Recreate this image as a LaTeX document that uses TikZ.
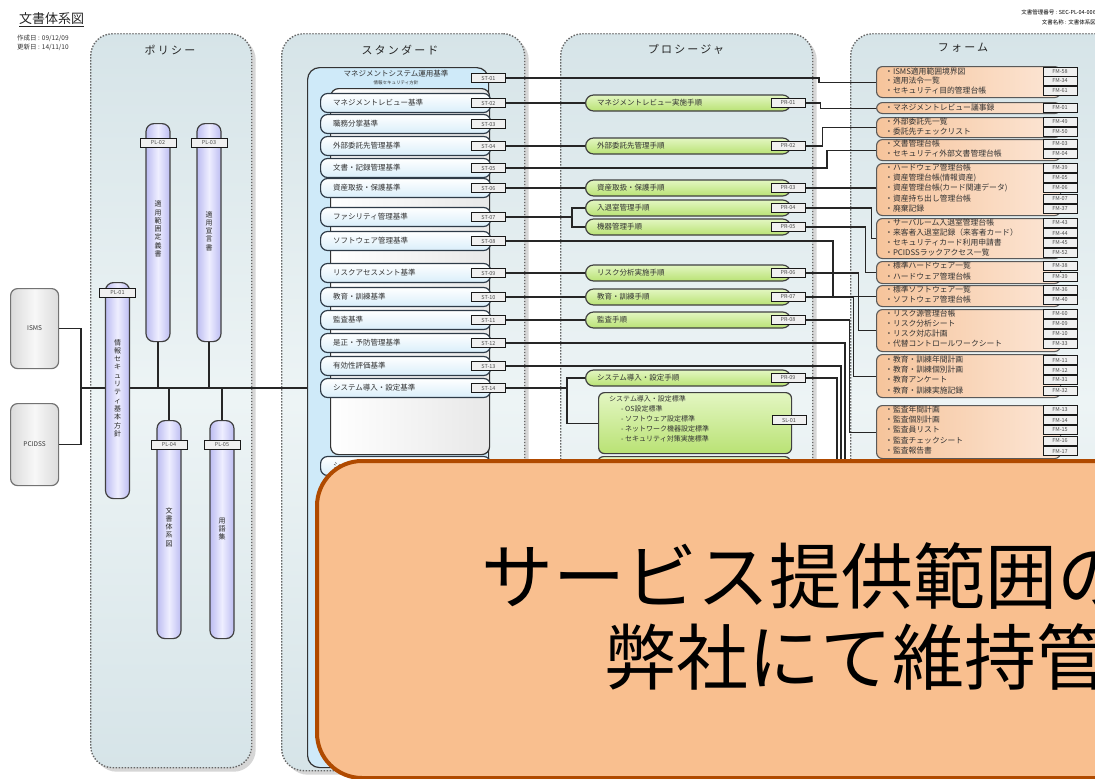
\documentclass[tikz,border=0pt]{standalone}
\usepackage{fontspec}
\setmainfont{Noto Sans CJK JP}
\usetikzlibrary{shadows}
\definecolor{colA}{HTML}{D6E4E8}
\definecolor{colB}{HTML}{EDF4F5}
\definecolor{plA}{HTML}{BDBDF2}
\definecolor{plB}{HTML}{EEEEFF}
\definecolor{stA}{HTML}{CFEAF9}
\definecolor{stB}{HTML}{D9EEFA}
\definecolor{stline}{HTML}{2E3B48}
\definecolor{prA}{HTML}{B9E274}
\definecolor{prB}{HTML}{E3F6C2}
\definecolor{fmA}{HTML}{F6C49B}
\definecolor{fmB}{HTML}{FCE6D6}
\definecolor{callfill}{HTML}{F9BF8F}
\definecolor{callline}{HTML}{B04A00}
\newcommand\mkst[4]{%
  \node[stbox, anchor=west] (#1b) at (320,#2) {};
  \node[txt, anchor=west] (#1t) at (333,#2) {#3};
  \node[lbl] (#1) at (488.5,#2) {#4};}
\newcommand\mkpr[4]{%
  \node[prbox, anchor=west] (#1b) at (585,#2) {};
  \node[txt, anchor=west] (#1t) at (597,#2) {#3};
  \node[lbl] (#1) at (788,#2) {#4};}
\newcommand\mkfm[4]{%
  \node[ftxt, anchor=west] (#1t) at (885,#2) {・#3};
  \node[lbl] (#1) at (1060,#2) {#4};}
\newcommand\mkfg[3]{%
  \node[fmbox, anchor=north west, minimum height=#3] (#1) at (876,#2) {};}
\begin{document}
\begin{tikzpicture}[x=1pt,y=-1pt,
  col/.style={draw=black!60, line width=1.4pt, dash pattern=on 1.4pt off 1.6pt,
    rounded corners=22pt, top color=colA, bottom color=colA, middle color=colB,
    drop shadow={shadow xshift=4pt, shadow yshift=-4pt, fill=black!16, opacity=1},
    inner sep=0},
  coltitle/.style={font=\fontsize{11}{12}\selectfont\addfontfeature{LetterSpace=20}, inner sep=0, text=black!85},
  lbl/.style={draw=black!90, line width=1pt, fill=black!6, minimum width=34pt,
    minimum height=9pt, inner sep=0, font=\fontsize{5.5}{6}\selectfont, text=black!70},
  txt/.style={inner sep=0, font=\fontsize{7.5}{8}\selectfont, text=black!80},
  ftxt/.style={inner sep=0, font=\fontsize{7.8}{9}\selectfont, text=black!80},
  small/.style={inner sep=0, font=\fontsize{6.5}{7}\selectfont, text=black!80},
  plbar/.style={draw=black!75, line width=1.2pt, rounded corners=8pt, minimum width=24pt,
    left color=plA, right color=plA, middle color=plB, inner sep=0},
  vt/.style={align=center, font=\fontsize{7}{8.3}\selectfont, inner sep=0, text=black!85},
  srcbox/.style={draw=black!55, line width=1.2pt, rounded corners=7pt,
    left color=black!14, right color=black!14, middle color=black!3,
    inner sep=0, font=\fontsize{6.5}{7}\selectfont, text=black!80},
  stbox/.style={draw=stline, line width=1.2pt, rounded corners=7pt, minimum width=170pt,
    minimum height=19pt, top color=white, bottom color=stB, inner sep=0},
  prbox/.style={draw=black!75, line width=1.2pt, rounded corners=8pt, minimum width=205pt,
    minimum height=16pt, top color=prB, bottom color=prA, inner sep=0},
  slbox/.style={draw=black!75, line width=1.2pt, rounded corners=6pt, minimum width=193pt,
    minimum height=61pt, top color=prB, bottom color=prA, inner sep=0},
  fmbox/.style={draw=black!65, line width=1.1pt, rounded corners=6pt, minimum width=184pt,
    left color=fmA, right color=fmB, inner sep=0},
  conn/.style={draw=black!85, line width=1.1pt}
]
\useasboundingbox (0,0) rectangle (1095,779);
\clip (0,0) rectangle (1095,779);
\fill[white] (0,0) rectangle (1095,779);

% header
\node[inner sep=0, anchor=west, font=\fontsize{13}{14}\selectfont, text=black!85] (ttl) at (19,20) {\underline{文書体系図}};
\node[small, anchor=west] (dt1) at (17,38) {作成日 : 09/12/09};
\node[small, anchor=west] (dt2) at (17,47) {更新日 : 14/11/10};
\node[inner sep=0, anchor=east, font=\fontsize{5.5}{6}\selectfont] (docno) at (1096,12) {文書管理番号 : SEC-PL-04-006};
\node[inner sep=0, anchor=east, font=\fontsize{5.5}{6}\selectfont] (docnm) at (1096,22) {文書名称 : 文書体系図};

% columns
\node[col, anchor=north west, minimum width=161pt, minimum height=734pt] (cpol) at (90,33) {};
\node[col, anchor=north west, minimum width=243pt, minimum height=737pt] (cstd) at (281,33) {};
\node[col, anchor=north west, minimum width=252pt, minimum height=737pt] (cpro) at (560,33) {};
\node[col, anchor=north west, minimum width=270pt, minimum height=737pt] (cfrm) at (850,33) {};
\node[coltitle] (tpol) at (170,50) {ポリシー};
\node[coltitle] (tstd) at (400,50) {スタンダード};
\node[coltitle] (tpro) at (686,49) {プロシージャ};
\node[coltitle] (tfrm) at (963,48) {フォーム};

% sources
\node[srcbox, anchor=north west, minimum width=48pt, minimum height=80pt] (isms) at (10,288) {ISMS};
\node[srcbox, anchor=north west, minimum width=48pt, minimum height=82pt] (pcidss) at (10,403) {PCIDSS};

% standards container
\node[draw=black!80, line width=1.2pt, rounded corners=12pt, fill=stA, anchor=north west,
  minimum width=181pt, minimum height=700pt, inner sep=0] (stc) at (307,67) {};
\node[draw=black!80, line width=1.2pt, rounded corners=8pt, left color=white, right color=black!9,
  anchor=north west, minimum width=159pt, minimum height=366pt, inner sep=0] (stp) at (330,88) {};
\node[txt] (st01t) at (396,74) {マネジメントシステム運用基準};
\node[inner sep=0, font=\fontsize{4.5}{5}\selectfont, text=black!80] (st01s) at (396,83) {情報セキュリティ方針};
\node[lbl] (st01) at (488.5,78) {ST-01};

% bus
\coordinate (busL) at (81,388);
\draw[conn] (isms.east) -| (busL);
\draw[conn] (pcidss.east) -| (busL);
\draw[conn] (busL) -- (stc.west |- busL);

% policy bars
\node[plbar, anchor=north, minimum height=216pt] (pl01b) at (117.5,282) {};
\node[plbar, anchor=north, minimum height=218pt] (pl02b) at (158,123) {};
\node[plbar, anchor=north, minimum height=218pt] (pl03b) at (209,123) {};
\node[plbar, anchor=north, minimum height=218pt] (pl04b) at (169,420) {};
\node[plbar, anchor=north, minimum height=218pt] (pl05b) at (222,420) {};
\draw[conn] (pl02b.south) -- (pl02b.south |- busL);
\draw[conn] (pl03b.south) -- (pl03b.south |- busL);
\draw[conn] (pl04b.north) -- (pl04b.north |- busL);
\draw[conn] (pl05b.north) -- (pl05b.north |- busL);
\node[lbl, minimum width=36pt] (pl01) at (117.5,293) {PL-01};
\node[lbl, minimum width=36pt] (pl02) at (158,143) {PL-02};
\node[lbl, minimum width=36pt] (pl03) at (209,143) {PL-03};
\node[lbl, minimum width=36pt] (pl04) at (169,445) {PL-04};
\node[lbl, minimum width=36pt] (pl05) at (222,445) {PL-05};
\node[vt] (pl01v) at (117.5,388) {情\\報\\セ\\キ\\ュ\\リ\\テ\\ィ\\基\\本\\方\\針};
\node[vt] (pl02v) at (158,229) {適\\用\\範\\囲\\定\\義\\書};
\node[vt] (pl03v) at (209,231) {適\\用\\宣\\言\\書};
\node[vt] (pl04v) at (169,527) {文\\書\\体\\系\\図};
\node[vt] (pl05v) at (222,529) {用\\語\\集};

% standards
\mkst{st02}{103}{マネジメントレビュー基準}{ST-02}
\mkst{st03}{124}{職務分掌基準}{ST-03}
\mkst{st04}{146}{外部委託先管理基準}{ST-04}
\mkst{st05}{168}{文書・記録管理基準}{ST-05}
\mkst{st06}{188}{資産取扱・保護基準}{ST-06}
\mkst{st07}{217}{ファシリティ管理基準}{ST-07}
\mkst{st08}{241}{ソフトウェア管理基準}{ST-08}
\mkst{st09}{273}{リスクアセスメント基準}{ST-09}
\mkst{st10}{297}{教育・訓練基準}{ST-10}
\mkst{st11}{320}{監査基準}{ST-11}
\mkst{st12}{343}{是正・予防管理基準}{ST-12}
\mkst{st13}{366}{有効性評価基準}{ST-13}
\mkst{st14}{388}{システム導入・設定基準}{ST-14}
\node[stbox, anchor=west] (st15b) at (320,466) {};
\node[txt, anchor=west] (st15t) at (333,466) {シ};

% procedures
\mkpr{pr01}{103}{マネジメントレビュー実施手順}{PR-01}
\mkpr{pr02}{146}{外部委託先管理手順}{PR-02}
\mkpr{pr03}{188}{資産取扱・保護手順}{PR-03}
\mkpr{pr04}{208}{入退室管理手順}{PR-04}
\mkpr{pr05}{227}{機器管理手順}{PR-05}
\mkpr{pr06}{273}{リスク分析実施手順}{PR-06}
\mkpr{pr07}{297}{教育・訓練手順}{PR-07}
\mkpr{pr08}{320}{監査手順}{PR-08}
\mkpr{pr09}{378}{システム導入・設定手順}{PR-09}
\node[slbox, anchor=north west] (sl01b) at (598,392) {};
\node[inner sep=0, anchor=north west, align=left, font=\fontsize{7}{10}\selectfont, text=black!80] (sl01t) at (609,395)
  {システム導入・設定標準\\\hspace{12pt}- OS設定標準\\\hspace{12pt}- ソフトウェア設定標準\\\hspace{12pt}- ネットワーク機器設定標準\\\hspace{12pt}- セキュリティ対策実施標準};
\node[lbl] (sl01) at (789,420) {SL-01};
\node[slbox, anchor=north west, minimum height=40pt] (sl02b) at (597,456) {};

% forms
\mkfg{fg1}{66}{31pt}
\mkfm{f58}{72}{ISMS適用範囲境界図}{FM-58}
\mkfm{f34}{81}{適用法令一覧}{FM-34}
\mkfm{f61}{91}{セキュリティ目的管理台帳}{FM-61}
\mkfg{fg2}{102}{11pt}
\mkfm{f01}{108}{マネジメントレビュー議事録}{FM-01}
\mkfg{fg3}{117}{20pt}
\mkfm{f49}{122}{外部委託先一覧}{FM-49}
\mkfm{f50}{132}{委託先チェックリスト}{FM-50}
\mkfg{fg4}{139}{21pt}
\mkfm{f03}{144}{文書管理台帳}{FM-03}
\mkfm{f04}{154}{セキュリティ外部文書管理台帳}{FM-04}
\mkfg{fg5}{163}{52pt}
\mkfm{f39a}{168}{ハードウェア管理台帳}{FM-39}
\mkfm{f05}{178}{資産管理台帳(情報資産)}{FM-05}
\mkfm{f06}{188}{資産管理台帳(カード関連データ)}{FM-06}
\mkfm{f07}{199}{資産持ち出し管理台帳}{FM-07}
\mkfm{f37}{209}{廃棄記録}{FM-37}
\mkfg{fg6}{218}{40pt}
\mkfm{f43}{223}{サーバルーム入退室管理台帳}{FM-43}
\mkfm{f44}{233}{来客者入退室記録（来客者カード）}{FM-44}
\mkfm{f45}{243}{セキュリティカード利用申請書}{FM-45}
\mkfm{f52}{253}{PCIDSSラックアクセス一覧}{FM-52}
\mkfg{fg7}{261}{22pt}
\mkfm{f38}{266}{標準ハードウェア一覧}{FM-38}
\mkfm{f39b}{277}{ハードウェア管理台帳}{FM-39}
\mkfg{fg8}{285}{21pt}
\mkfm{f36}{290}{標準ソフトウェア一覧}{FM-36}
\mkfm{f40}{300}{ソフトウェア管理台帳}{FM-40}
\mkfg{fg9}{309}{42pt}
\mkfm{f60}{314}{リスク源管理台帳}{FM-60}
\mkfm{f09}{324}{リスク分析シート}{FM-09}
\mkfm{f10}{334}{リスク対応計画}{FM-10}
\mkfm{f33}{344}{代替コントロールワークシート}{FM-33}
\mkfg{fg10}{354}{43pt}
\mkfm{f11}{360}{教育・訓練年間計画}{FM-11}
\mkfm{f12}{370}{教育・訓練個別計画}{FM-12}
\mkfm{f31}{380}{教育アンケート}{FM-31}
\mkfm{f32}{391}{教育・訓練実施記録}{FM-32}
\mkfg{fg11}{405}{53pt}
\mkfm{f13}{410}{監査年間計画}{FM-13}
\mkfm{f14}{420}{監査個別計画}{FM-14}
\mkfm{f15}{430}{監査員リスト}{FM-15}
\mkfm{f16}{441}{監査チェックシート}{FM-16}
\mkfm{f17}{451}{監査報告書}{FM-17}

% connectors
\draw[conn] (st02.east) -- (pr01b.west);
\draw[conn] (st04.east) -- (pr02b.west);
\draw[conn] (st06.east) -- (pr03b.west);
\draw[conn] (st09.east) -- (pr06b.west);
\draw[conn] (st10.east) -- (pr07b.west);
\draw[conn] (st11.east) -- (pr08b.west);
\draw[conn] (pr04b.west) -- ++(-13,0) |- (st07.east);
\draw[conn] (pr05b.west) -- ++(-13,0) |- (st07.east);
\draw[conn] (pr09b.west) -- ++(-18,0) |- (st14.east);
\draw[conn] (sl01b.west) -- ++(-31,0) |- (st14.east);
\draw[conn] (st01.east) -- ++(313,0) |- (fg1.west);
\draw[conn] (pr01.east) -- ++(15,0) |- (fg2.west);
\draw[conn] (pr02.east) -- ++(17,0) |- (fg3.west);
\draw[conn] (st05.east) -- ++(321,0) |- (fg4.west);
\draw[conn] (pr03.east) -- (pr03.east -| fg5.west);
\draw[conn] (pr04.east) -- ++(66,0) |- (fg6.west);
\draw[conn] (pr05.east) -- ++(60,0) |- (fg7.west);
\draw[conn] (st08.east) -- ++(327,0) |- (fg8.west);
\draw[conn] (pr06.east) -- ++(53,0) |- (fg9.west);
\draw[conn] (pr07.east) -- ++(48,0) |- (fg10.west);
\draw[conn] (pr08.east) -- ++(44,0) |- (fg11.west);
\coordinate (e12) at (845,480);
\coordinate (e13) at (841,480);
\coordinate (e09) at (837,480);
\draw[conn] (st12.east) -| (e12);
\draw[conn] (st13.east) -| (e13);
\draw[conn] (pr09.east) -| (e09);

% callout
\node[draw=callline, line width=4pt, fill=callfill, rounded corners=45pt, anchor=north west,
  minimum width=830pt, minimum height=317pt, inner sep=0] (callout) at (315,459) {};
\node[inner sep=0, anchor=west, font=\fontsize{72}{80}\selectfont] (ct1) at (481,576) {サービス提供範囲の};
\node[inner sep=0, anchor=west, font=\fontsize{72}{80}\selectfont] (ct2) at (604,657) {弊社にて維持管理};
\end{tikzpicture}
\end{document}
